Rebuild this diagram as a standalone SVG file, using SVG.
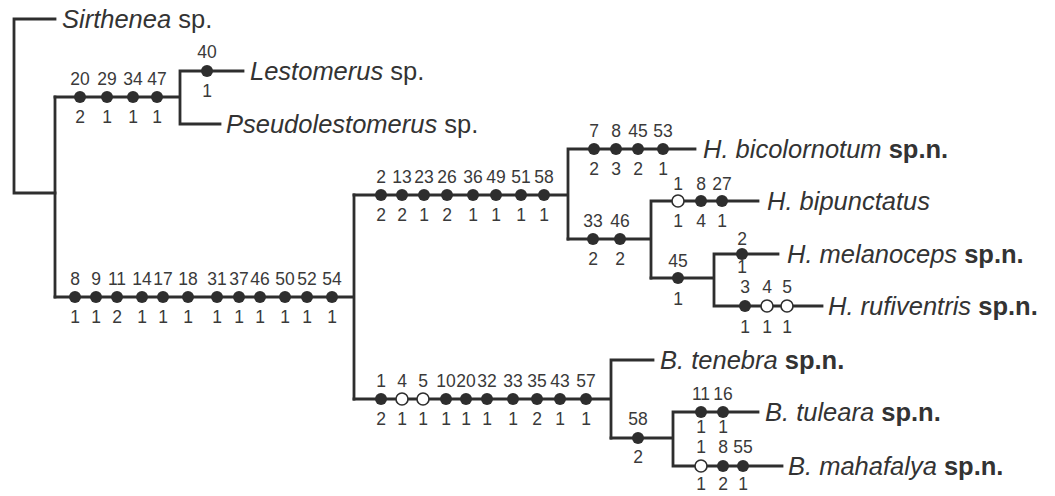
<svg xmlns="http://www.w3.org/2000/svg" width="1055" height="496" viewBox="0 0 1055 496">
<style>
.br{fill:none;stroke:#2e2e2e;stroke-width:2.8;stroke-linecap:square}
.f{fill:#2e2e2e}
.o{fill:#fff;stroke:#2e2e2e;stroke-width:1.6}
.n{font-family:"Liberation Sans",Arial,sans-serif;font-size:17.5px;fill:#3a3a3a;text-anchor:middle}
.t{font-family:"Liberation Sans",Arial,sans-serif;font-size:25.5px;fill:#333}
.i{font-style:italic}
.b{font-weight:bold}
</style>
<rect width="1055" height="496" fill="#fff"/>
<g id="connectors" class="br">
<path d="M55,19 H14 V193 H55"/>
<path d="M55,97 V297"/>
<path d="M55,97 H180 M180,71 V124 M180,71 H243 M180,124 H220"/>
<path d="M55,297 H354 M354,195 V399"/>
<path d="M354,195 H568 M568,149 V239 M568,149 H695"/>
<path d="M568,239 H651 M651,201 V278 M651,201 H758"/>
<path d="M651,278 H714 M714,254 V306 M714,254 H778 M714,306 H822"/>
<path d="M354,399 H611 M611,360 V438 M611,360 H653"/>
<path d="M611,438 H673 M673,412 V466 M673,412 H758 M673,466 H782"/>
</g>
<g id="taxon-sirthenea"><text class="t" x="62" y="28"><tspan class="i">Sirthenea</tspan> sp.</text></g>
<g id="taxon-lestomerus"><text class="t" x="250" y="80"><tspan class="i">Lestomerus</tspan> sp.</text></g>
<g id="taxon-pseudolestomerus"><text class="t" x="226" y="133"><tspan class="i">Pseudolestomerus</tspan> sp.</text></g>
<g id="taxon-bicolornotum"><text class="t" x="703" y="158"><tspan class="i">H. bicolornotum</tspan> <tspan class="b">sp.n.</tspan></text></g>
<g id="taxon-bipunctatus"><text class="t" x="767" y="210"><tspan class="i">H. bipunctatus</tspan></text></g>
<g id="taxon-melanoceps"><text class="t" x="787" y="263"><tspan class="i">H. melanoceps</tspan> <tspan class="b">sp.n.</tspan></text></g>
<g id="taxon-rufiventris"><text class="t" x="828" y="315"><tspan class="i">H. rufiventris</tspan> <tspan class="b">sp.n.</tspan></text></g>
<g id="taxon-tenebra"><text class="t" x="660" y="369"><tspan class="i">B. tenebra</tspan> <tspan class="b">sp.n.</tspan></text></g>
<g id="taxon-tuleara"><text class="t" x="765" y="421"><tspan class="i">B. tuleara</tspan> <tspan class="b">sp.n.</tspan></text></g>
<g id="taxon-mahafalya"><text class="t" x="788" y="475"><tspan class="i">B. mahafalya</tspan> <tspan class="b">sp.n.</tspan></text></g>

<g id="chars-lestomerus-clade">
<circle class="f" cx="80" cy="97" r="6"/><circle class="f" cx="107" cy="97" r="6"/><circle class="f" cx="133" cy="97" r="6"/><circle class="f" cx="157" cy="97" r="6"/>
<text class="n" x="80" y="85">20</text><text class="n" x="107" y="85">29</text><text class="n" x="133" y="85">34</text><text class="n" x="157" y="85">47</text>
<text class="n" x="80" y="123">2</text><text class="n" x="107" y="123">1</text><text class="n" x="133" y="123">1</text><text class="n" x="157" y="123">1</text>
</g>
<g id="chars-lestomerus">
<circle class="f" cx="207" cy="71" r="6"/>
<text class="n" x="207" y="58">40</text><text class="n" x="207" y="97">1</text>
</g>
<g id="chars-main">
<circle class="f" cx="75" cy="297" r="6"/><circle class="f" cx="96" cy="297" r="6"/><circle class="f" cx="117" cy="297" r="6"/><circle class="f" cx="142" cy="297" r="6"/><circle class="f" cx="163" cy="297" r="6"/><circle class="f" cx="188" cy="297" r="6"/><circle class="f" cx="217" cy="297" r="6"/><circle class="f" cx="239" cy="297" r="6"/><circle class="f" cx="260" cy="297" r="6"/><circle class="f" cx="285" cy="297" r="6"/><circle class="f" cx="307" cy="297" r="6"/><circle class="f" cx="332" cy="297" r="6"/>
<text class="n" x="75" y="285">8</text><text class="n" x="96" y="285">9</text><text class="n" x="117" y="285">11</text><text class="n" x="142" y="285">14</text><text class="n" x="163" y="285">17</text><text class="n" x="188" y="285">18</text><text class="n" x="217" y="285">31</text><text class="n" x="239" y="285">37</text><text class="n" x="260" y="285">46</text><text class="n" x="285" y="285">50</text><text class="n" x="307" y="285">52</text><text class="n" x="332" y="285">54</text>
<text class="n" x="75" y="323">1</text><text class="n" x="96" y="323">1</text><text class="n" x="117" y="323">2</text><text class="n" x="142" y="323">1</text><text class="n" x="163" y="323">1</text><text class="n" x="188" y="323">1</text><text class="n" x="217" y="323">1</text><text class="n" x="239" y="323">1</text><text class="n" x="260" y="323">1</text><text class="n" x="285" y="323">1</text><text class="n" x="307" y="323">1</text><text class="n" x="332" y="323">1</text>
</g>
<g id="chars-h-clade">
<circle class="f" cx="381" cy="195" r="6"/><circle class="f" cx="402" cy="195" r="6"/><circle class="f" cx="424" cy="195" r="6"/><circle class="f" cx="447" cy="195" r="6"/><circle class="f" cx="473" cy="195" r="6"/><circle class="f" cx="496" cy="195" r="6"/><circle class="f" cx="521" cy="195" r="6"/><circle class="f" cx="544" cy="195" r="6"/>
<text class="n" x="381" y="183">2</text><text class="n" x="402" y="183">13</text><text class="n" x="424" y="183">23</text><text class="n" x="447" y="183">26</text><text class="n" x="473" y="183">36</text><text class="n" x="496" y="183">49</text><text class="n" x="521" y="183">51</text><text class="n" x="544" y="183">58</text>
<text class="n" x="381" y="221">2</text><text class="n" x="402" y="221">2</text><text class="n" x="424" y="221">1</text><text class="n" x="447" y="221">2</text><text class="n" x="473" y="221">1</text><text class="n" x="496" y="221">1</text><text class="n" x="521" y="221">1</text><text class="n" x="544" y="221">1</text>
</g>
<g id="chars-bicolornotum">
<circle class="f" cx="594" cy="149" r="6"/><circle class="f" cx="616" cy="149" r="6"/><circle class="f" cx="638" cy="149" r="6"/><circle class="f" cx="663" cy="149" r="6"/>
<text class="n" x="594" y="137">7</text><text class="n" x="616" y="137">8</text><text class="n" x="638" y="137">45</text><text class="n" x="663" y="137">53</text>
<text class="n" x="594" y="175">2</text><text class="n" x="616" y="175">3</text><text class="n" x="638" y="175">2</text><text class="n" x="663" y="175">1</text>
</g>
<g id="chars-h-lower">
<circle class="f" cx="593" cy="239" r="6"/><circle class="f" cx="620" cy="239" r="6"/>
<text class="n" x="593" y="227">33</text><text class="n" x="620" y="227">46</text>
<text class="n" x="593" y="265">2</text><text class="n" x="620" y="265">2</text>
</g>
<g id="chars-bipunctatus">
<circle class="o" cx="678" cy="201" r="6"/><circle class="f" cx="701" cy="201" r="6"/><circle class="f" cx="722" cy="201" r="6"/>
<text class="n" x="678" y="190">1</text><text class="n" x="701" y="190">8</text><text class="n" x="722" y="190">27</text>
<text class="n" x="678" y="227">1</text><text class="n" x="701" y="227">4</text><text class="n" x="722" y="227">1</text>
</g>
<g id="chars-mel-ruf-clade">
<circle class="f" cx="678" cy="278" r="6"/>
<text class="n" x="678" y="267">45</text><text class="n" x="678" y="305">1</text>
</g>
<g id="chars-melanoceps">
<circle class="f" cx="742" cy="254" r="6"/>
<text class="n" x="742" y="245">2</text><text class="n" x="742" y="273">1</text>
</g>
<g id="chars-rufiventris">
<circle class="f" cx="745" cy="306" r="6"/><circle class="o" cx="767" cy="306" r="6"/><circle class="o" cx="787" cy="306" r="6"/>
<text class="n" x="745" y="293">3</text><text class="n" x="767" y="293">4</text><text class="n" x="787" y="293">5</text>
<text class="n" x="745" y="333">1</text><text class="n" x="767" y="333">1</text><text class="n" x="787" y="333">1</text>
</g>
<g id="chars-b-clade">
<circle class="f" cx="381" cy="399" r="6"/><circle class="o" cx="402" cy="399" r="6"/><circle class="o" cx="423" cy="399" r="6"/><circle class="f" cx="446" cy="399" r="6"/><circle class="f" cx="466" cy="399" r="6"/><circle class="f" cx="487" cy="399" r="6"/><circle class="f" cx="513" cy="399" r="6"/><circle class="f" cx="537" cy="399" r="6"/><circle class="f" cx="560" cy="399" r="6"/><circle class="f" cx="586" cy="399" r="6"/>
<text class="n" x="381" y="387">1</text><text class="n" x="402" y="387">4</text><text class="n" x="423" y="387">5</text><text class="n" x="446" y="387">10</text><text class="n" x="466" y="387">20</text><text class="n" x="487" y="387">32</text><text class="n" x="513" y="387">33</text><text class="n" x="537" y="387">35</text><text class="n" x="560" y="387">43</text><text class="n" x="586" y="387">57</text>
<text class="n" x="381" y="425">2</text><text class="n" x="402" y="425">1</text><text class="n" x="423" y="425">1</text><text class="n" x="446" y="425">1</text><text class="n" x="466" y="425">1</text><text class="n" x="487" y="425">1</text><text class="n" x="513" y="425">1</text><text class="n" x="537" y="425">2</text><text class="n" x="560" y="425">1</text><text class="n" x="586" y="425">1</text>
</g>
<g id="chars-tul-mah-clade">
<circle class="f" cx="638" cy="438" r="6"/>
<text class="n" x="638" y="425">58</text><text class="n" x="638" y="463">2</text>
</g>
<g id="chars-tuleara">
<circle class="f" cx="701" cy="412" r="6"/><circle class="f" cx="723" cy="412" r="6"/>
<text class="n" x="701" y="400">11</text><text class="n" x="723" y="400">16</text>
<text class="n" x="701" y="433">1</text><text class="n" x="723" y="433">1</text>
</g>
<g id="chars-mahafalya">
<circle class="o" cx="701" cy="466" r="6"/><circle class="f" cx="723" cy="466" r="6"/><circle class="f" cx="743" cy="466" r="6"/>
<text class="n" x="701" y="453">1</text><text class="n" x="723" y="453">8</text><text class="n" x="743" y="453">55</text>
<text class="n" x="701" y="490">1</text><text class="n" x="723" y="490">2</text><text class="n" x="743" y="490">1</text>
</g>
</svg>
